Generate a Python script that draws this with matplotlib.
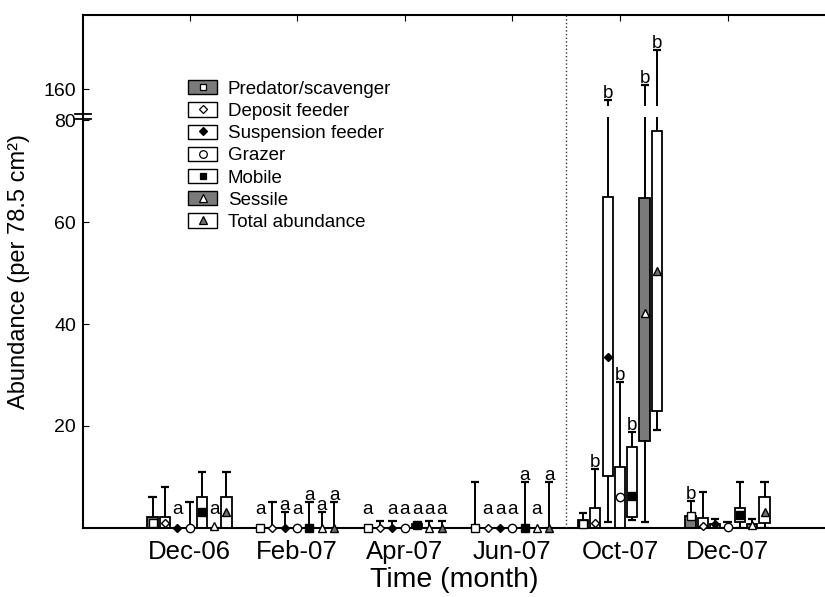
import matplotlib
matplotlib.use('Agg')
import matplotlib.pyplot as plt
import numpy as np
from matplotlib.patches import Patch
from matplotlib.lines import Line2D
from matplotlib.legend_handler import HandlerTuple
import matplotlib.transforms as mtransforms

plt.rcParams['font.family'] = ['Liberation Sans', 'DejaVu Sans']

# sampling months and feeding / life-style groups
months = ['Dec-06', 'Feb-07', 'Apr-07', 'Jun-07', 'Oct-07', 'Dec-07']
groups = ['Predator/scavenger', 'Deposit feeder', 'Suspension feeder', 'Grazer',
          'Mobile', 'Sessile', 'Total abundance']

# central value (marker) per group (rows) and month (cols)
centre = [
    [1.0, 0.0, 0.0, 0.0, 0.8, 2.3],
    [1.0, 0.0, 0.0, 0.0, 1.0, 0.3],
    [0.0, 0.0, 0.0, 0.0, 33.5, 0.7],
    [0.0, 0.0, 0.0, 0.0, 6.1, 0.2],
    [3.2, 0.0, 0.5, 0.0, 6.3, 2.5],
    [0.3, 0.0, 0.0, 0.0, 42.1, 0.6],
    [3.2, 0.0, 0.0, 0.0, 50.3, 3.2],
]
# box lower / upper edges
box_lo = [
    [0, 0, 0, 0, 0, 0],
    [0, 0, 0, 0, 0, 0],
    [0, 0, 0, 0, 10.1, 0],
    [0, 0, 0, 0, 0, 0],
    [0, 0, 0, 0, 2.2, 1.2],
    [0, 0, 0, 0, 17.1, 0],
    [0, 0, 0, 0, 22.9, 1.0],
]
box_hi = [
    [2.2, 0, 0, 0, 1.5, 2.3],
    [2.2, 0, 0, 0, 4.0, 2.0],
    [0, 0, 0, 0, 65.0, 0.8],
    [0, 0, 0, 0, 12.0, 0],
    [6.0, 0, 0.8, 0, 15.9, 4.0],
    [0, 0, 0, 0, 64.8, 0.8],
    [6.0, 0, 0, 0, 77.9, 6.0],
]
# whisker ends
whisk_lo = [
    [0, 0, 0, 0, 0, 0],
    [0, 0, 0, 0, 0, 0],
    [0, 0, 0, 0, 1.2, 0],
    [0, 0, 0, 0, 0, 0],
    [0, 0, 0, 0, 1.6, 0],
    [0, 0, 0, 0, 1.2, 0],
    [0, 0, 0, 0, 19.3, 0],
]
whisk_hi = [
    [6.0, 0, 0, 9.0, 3.0, 5.2],
    [8.0, 5.0, 1.4, 0, 11.5, 7.1],
    [0, 3.2, 1.4, 0, 131.6, 1.8],
    [5.0, 0, 0, 0, 28.7, 1.2],
    [11.0, 5.0, 0.8, 9.0, 18.9, 9.1],
    [0, 3.2, 1.4, 0, 170.0, 1.8],
    [11.0, 5.0, 1.4, 9.0, 260.0, 9.1],
]
# significance letters
letters = [
    ['', 'a', 'a', '', '', 'b'],
    ['', '', '', 'a', 'b', ''],
    ['a', 'a', 'a', 'a', 'b', ''],
    ['', 'a', 'a', 'a', 'b', ''],
    ['', 'a', 'a', 'a', 'b', ''],
    ['a', 'a', 'a', 'a', 'b', ''],
    ['', 'a', 'a', 'a', 'b', ''],
]

box_fill = ['#7a7a7a', 'white', 'white', 'white', 'white', '#7a7a7a', 'white']
mk_shape = ['s', 'D', 'D', 'o', 's', '^', '^']
mk_face = ['white', 'white', 'black', 'white', 'black', 'white', '#707070']
mk_size = [5.5, 4.5, 4.5, 6, 5.5, 6, 6]

# broken y axis: 0-80 linear, compressed above 80
K = 0.076


def fwd(y):
    y = np.asarray(y, dtype=float)
    return np.where(y <= 80, y, 80 + (y - 80) * K)


def inv(d):
    d = np.asarray(d, dtype=float)
    return np.where(d <= 80, d, 80 + (d - 80) / K)


fig = plt.figure(figsize=(8.25, 5.97), dpi=100)
ax = fig.add_axes([0.1006, 0.1156, 0.9, 0.8593])
ax.set_yscale('function', functions=(fwd, inv))

step = 0.1145
bw = 0.095
cw = 0.038

for i in range(len(groups)):
    for j in range(len(months)):
        x = j + (i - 3) * step
        lo, hi = box_lo[i][j], box_hi[i][j]
        wl, wh = whisk_lo[i][j], whisk_hi[i][j]
        if hi > lo:
            ax.bar(x, hi - lo, bottom=lo, width=bw, facecolor=box_fill[i],
                   edgecolor='black', linewidth=1.3, zorder=2)
        if wh > hi:
            ax.vlines(x, hi, wh, color='black', lw=1.4, zorder=1.9)
            ax.hlines(wh, x - cw, x + cw, color='black', lw=1.6, zorder=1.9)
        if wl < lo:
            ax.vlines(x, wl, lo, color='black', lw=1.4, zorder=1.9)
            ax.hlines(wl, x - cw, x + cw, color='black', lw=1.6, zorder=1.9)
        ax.plot(x, centre[i][j], marker=mk_shape[i], ms=mk_size[i],
                mfc=mk_face[i], mec='black', mew=1.0, ls='none', zorder=4,
                clip_on=False)
        if letters[i][j]:
            top = max(wh, hi, centre[i][j], 2.3)
            ax.annotate(letters[i][j], (x, top), xytext=(0, 1.5),
                        textcoords='offset points', ha='center', va='baseline',
                        fontsize=13.5, zorder=5)

# gap in the long whiskers at the axis break
ax.axhspan(88, 115, color='white', zorder=2.2, lw=0)

ax.axvline(3.5, color='#333333', ls=':', lw=1.0, zorder=3)

# break marks on the y axis
trans = mtransforms.blended_transform_factory(ax.transAxes, ax.transData)
for yb in (83.5, 96.0):
    ax.plot([-0.011, 0.011], [yb, yb], color='black', lw=1.3, transform=trans,
            clip_on=False, zorder=5)

ax.set_xlim(-0.99, 5.91)
ax.set_ylim(0, 351)
ax.set_xticks(range(len(months)))
ax.set_xticklabels(months, fontsize=18.5)
ax.set_yticks([20, 40, 60, 80, 160])
ax.set_yticklabels(['20', '40', '60', '80', '160'], fontsize=14)
ax.tick_params(axis='x', direction='in', length=4, pad=9, top=True, bottom=False)
ax.tick_params(axis='y', direction='in', length=4, pad=5)
ax.spines['right'].set_visible(False)
for s in ['left', 'top', 'bottom']:
    ax.spines[s].set_linewidth(1.5)

ax.set_xlabel('Time (month)', fontsize=20.5, labelpad=2)
ax.set_ylabel('Abundance (per 78.5 cm²)', fontsize=17, labelpad=10)

handles = []
for i in range(len(groups)):
    p = Patch(facecolor=box_fill[i], edgecolor='black', linewidth=1.0)
    m = Line2D([], [], marker=mk_shape[i], ms=mk_size[i] - 0.5, mfc=mk_face[i],
               mec='black', mew=0.9, ls='none')
    handles.append((p, m))
ax.legend(handles, groups, handler_map={tuple: HandlerTuple(ndivide=1)},
          loc='upper left', bbox_to_anchor=(0.142, 0.873), frameon=False,
          fontsize=13.5, handlelength=1.55, handleheight=0.8, handletextpad=0.55,
          labelspacing=0.24, borderpad=0, borderaxespad=0)

fig.savefig('out.png', dpi=100)
